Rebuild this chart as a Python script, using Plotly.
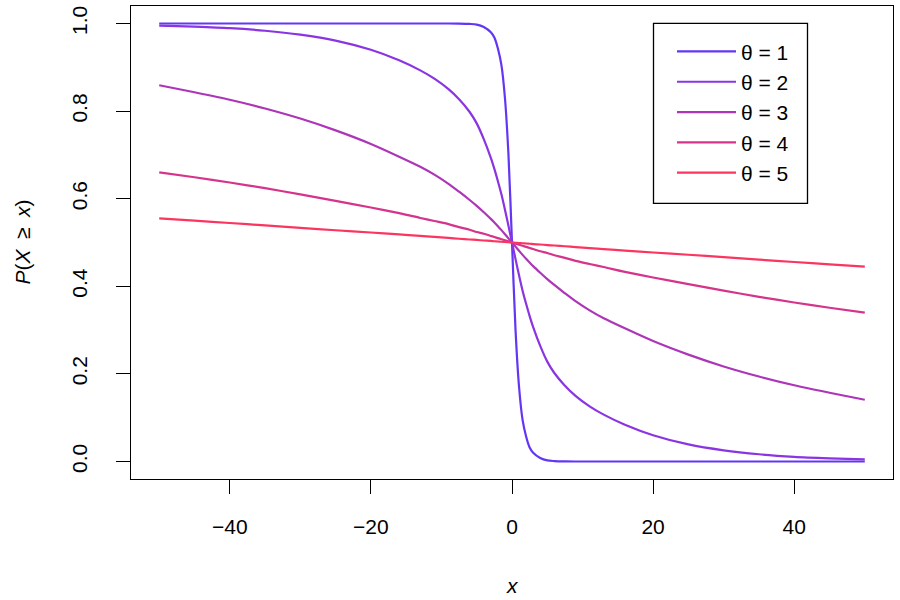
import plotly.graph_objects as go

# shared x grid
x_vals = [-50, -45, -40, -35, -30, -25, -20, -16, -13, -11, -9, -7.5, -6, -5, -4, -3, -2.5, -2, -1.5, -1, -0.5,
          0,
          0.5, 1, 1.5, 2, 2.5, 3, 4, 5, 6, 7.5, 9, 11, 13, 16, 20, 25, 30, 35, 40, 45, 50]

theta_1 = [1.0, 1.0, 1.0, 1.0, 1.0, 1.0, 1.0, 1.0, 1.0, 1.0, 1.0, 0.9998, 0.999, 0.9975, 0.992, 0.98, 0.968, 0.943, 0.905, 0.83, 0.70,
           0.5,
           0.30, 0.17, 0.095, 0.057, 0.032, 0.02, 0.008, 0.0025, 0.001, 0.0002, 0.0, 0.0, 0.0, 0.0, 0.0, 0.0, 0.0, 0.0, 0.0, 0.0, 0.0]

theta_2 = [0.9954, 0.9928, 0.9893, 0.9835, 0.9745, 0.961, 0.940, 0.916, 0.893, 0.874, 0.850, 0.827, 0.798, 0.772, 0.736, 0.693, 0.668, 0.640, 0.610, 0.575, 0.538,
           0.5,
           0.462, 0.425, 0.390, 0.360, 0.332, 0.307, 0.264, 0.228, 0.202, 0.173, 0.150, 0.126, 0.107, 0.084, 0.060, 0.039, 0.0255, 0.0165, 0.0107, 0.0072, 0.0046]

theta_3 = [0.859, 0.843, 0.826, 0.806, 0.783, 0.756, 0.725, 0.696, 0.673, 0.655, 0.634, 0.616, 0.597, 0.5835, 0.569, 0.554, 0.5458, 0.5373, 0.5283, 0.519, 0.5095,
           0.5,
           0.4905, 0.481, 0.4717, 0.4627, 0.4542, 0.446, 0.431, 0.4165, 0.403, 0.384, 0.366, 0.345, 0.327, 0.304, 0.275, 0.244, 0.217, 0.194, 0.174, 0.157, 0.141]

theta_4 = [0.66, 0.649, 0.637, 0.624, 0.61, 0.595, 0.58, 0.567, 0.556, 0.549, 0.542, 0.535, 0.529, 0.524, 0.52, 0.515, 0.5125, 0.51, 0.5075, 0.505, 0.5025,
           0.5,
           0.4975, 0.495, 0.4925, 0.49, 0.4875, 0.485, 0.48, 0.476, 0.471, 0.465, 0.458, 0.451, 0.444, 0.433, 0.42, 0.405, 0.39, 0.376, 0.363, 0.351, 0.34]

theta_5 = [0.555, 0.55, 0.5445, 0.539, 0.5335, 0.528, 0.5228, 0.5184, 0.515, 0.5127, 0.5104, 0.5086, 0.5069, 0.5058, 0.5046, 0.5035, 0.5029, 0.5023, 0.5017, 0.5012, 0.5006,
           0.5,
           0.4994, 0.4988, 0.4983, 0.4977, 0.4971, 0.4965, 0.4954, 0.4942, 0.4931, 0.4914, 0.4896, 0.4873, 0.485, 0.4816, 0.4772, 0.472, 0.4665, 0.461, 0.4555, 0.45, 0.445]

series = [theta_1, theta_2, theta_3, theta_4, theta_5]
legend_labels = ["θ = 1", "θ = 2", "θ = 3", "θ = 4", "θ = 5"]
colors = ["#6236F5", "#8A34E2", "#AD35B8", "#D5348A", "#FA3560"]

y_ticks = [0.0, 0.2, 0.4, 0.6, 0.8, 1.0]
y_ticktext = ["0.0", "0.2", "0.4", "0.6", "0.8", "1.0"]
x_ticks = [-40, -20, 0, 20, 40]
x_ticktext = ["\u221240", "\u221220", "0", "20", "40"]

for s in series:
    assert len(s) == len(x_vals)

FONT = "Liberation Sans, Arial, Helvetica, sans-serif"

# plot-area geometry in pixels (for converting legend box position)
L, R, T, B = 131, 893, 6, 479
W, H = R - L, B - T

fig = go.Figure()
for vals, lab, col in zip(series, legend_labels, colors):
    fig.add_trace(go.Scatter(
        x=x_vals, y=vals, mode="lines", name=lab, legendgroup=lab,
        line=dict(color=col, width=2.2, shape="spline", smoothing=0.8),
    ))

fig.update_layout(
    width=900, height=600,
    margin=dict(l=L, r=900 - R, t=T, b=600 - B),
    paper_bgcolor="white", plot_bgcolor="white",
    font=dict(family=FONT, size=21, color="black"),
    showlegend=True,
    legend=dict(
        x=(672 - L) / W, y=(B - 31.3) / H, xanchor="left", yanchor="top",
        borderwidth=0, bgcolor="rgba(0,0,0,0)",
        font=dict(family=FONT, size=21), tracegroupgap=0,
        itemwidth=59,
    ),
    shapes=[dict(type="rect", xref="paper", yref="paper",
                 x0=(653.5 - L) / W, x1=(807.5 - L) / W,
                 y0=(B - 203.3) / H, y1=(B - 23.3) / H,
                 line=dict(color="black", width=1.3), layer="above")],
    xaxis=dict(
        range=[-54, 54], tickvals=x_ticks, ticktext=x_ticktext,
        showgrid=False, zeroline=False,
        showline=True, mirror=True, linecolor="black", linewidth=1.3,
        ticks="outside", ticklen=14, tickwidth=1.3, tickcolor="black",
        ticklabelstandoff=15,
    ),
    yaxis=dict(
        range=[-0.04, 1.04], tickvals=y_ticks, ticktext=y_ticktext,
        showgrid=False, zeroline=False,
        showline=True, mirror=True, linecolor="black", linewidth=1.3,
        ticks="outside", ticklen=14, tickwidth=1.3, tickcolor="black",
        tickangle=-90, ticklabelstandoff=20,
    ),
    annotations=[
        dict(text="<i>x</i>", x=0.5, y=0, xref="paper", yref="paper",
             yshift=-106, showarrow=False, xanchor="center", yanchor="middle",
             font=dict(family=FONT, size=21)),
        dict(text="<i>P</i>(<i>X</i>\u2002\u2265\u2002<i>x</i>)", x=0, y=0.5, xref="paper", yref="paper",
             xshift=-109, showarrow=False, xanchor="center", yanchor="middle",
             textangle=-90, font=dict(family=FONT, size=21)),
    ],
)

fig.write_html("out.html")
